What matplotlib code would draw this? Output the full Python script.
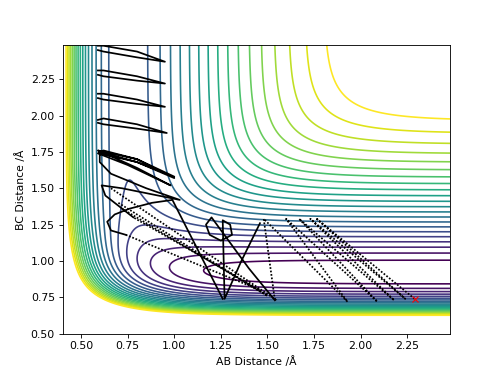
import numpy as np
import matplotlib
matplotlib.use("Agg")
import matplotlib.pyplot as plt

# LEPS parameters (eV, Angstrom) for the H-H and H-F pairs
D_HH, BETA_HH, R0_HH, SATO_HH = 4.746, 1.942, 0.742, 0.20
D_HF, BETA_HF, R0_HF, SATO_HF = 6.122, 2.2187, 0.917, 0.20

# contour levels: lowest line, highest line, number of lines
level_low = -5.926
level_high = -1.133
n_levels = 22

# trajectory
start_ab, start_bc = 2.29, 0.74

# fast parts (dotted in the picture)
fast_ab = [2.29, 1.76, 2.24, 1.73, 2.18, 1.67, 2.09, 1.60, 1.93, 1.48, 1.54, np.nan,
           0.74, 1.46, 0.78, np.nan,
           0.70, 1.50, 0.72, np.nan,
           0.66, 1.55]
fast_bc = [0.74, 1.295, 0.74, 1.29, 0.73, 1.29, 0.72, 1.29, 0.72, 1.29, 0.73, np.nan,
           1.18, 0.80, 1.30, np.nan,
           1.40, 0.76, 1.36, np.nan,
           1.50, 0.73]

# slow parts (dense dots in the picture)
slow_ab = [1.54, 1.40, 1.20, 1.17, 1.19, 1.25, 1.31, 1.30, 1.26, 1.27, 1.36, 1.46, np.nan,
           1.26, 0.99, 0.88, 0.76, 0.68, 0.64, 0.66, 0.74, np.nan,
           0.78, 0.70, 0.63, 0.61, 0.72, 1.03, 0.85, 0.66, 0.60, 0.60, 0.80, 1.00, 0.80,
           0.62, 0.59, 0.75, 0.98, 0.80, 0.61, 0.59, 0.80, 1.00, 0.80, 0.60, np.nan,
           0.59, 0.62, 0.80, 0.96, 0.80, 0.62, 0.59, np.nan,
           0.59, 0.62, 0.80, 0.95, 0.80, 0.62, 0.59, np.nan,
           0.59, 0.62, 0.80, 0.95, 0.80, 0.62, 0.59, np.nan,
           0.59, 0.62, 0.80, 0.95, 0.80, 0.62, 0.59]
slow_bc = [0.73, 0.95, 1.30, 1.25, 1.18, 1.14, 1.18, 1.25, 1.28, 0.74, 1.00, 1.26, np.nan,
           0.74, 1.42, 1.40, 1.36, 1.32, 1.27, 1.21, 1.18, np.nan,
           1.30, 1.38, 1.45, 1.52, 1.50, 1.42, 1.50, 1.60, 1.68, 1.75, 1.68, 1.57, 1.70,
           1.76, 1.74, 1.66, 1.52, 1.64, 1.75, 1.76, 1.70, 1.58, 1.68, 1.74, np.nan,
           1.97, 1.98, 1.94, 1.88, 1.91, 1.94, 1.95, np.nan,
           2.15, 2.15, 2.11, 2.06, 2.08, 2.11, 2.12, np.nan,
           2.31, 2.31, 2.27, 2.22, 2.24, 2.27, 2.28, np.nan,
           2.48, 2.48, 2.44, 2.37, 2.40, 2.44, 2.45]


def leps_terms(r, D, beta, r0, s):
    e1 = np.exp(-beta * (r - r0))
    e2 = e1 ** 2
    q = D / 4 * ((3 + s) * e2 - (2 + 6 * s) * e1)
    j = D / 4 * ((1 + 3 * s) * e2 - (6 + 2 * s) * e1)
    return q / (1 + s), j / (1 + s)


def leps(rab, rbc):
    rac = rab + rbc
    qab, jab = leps_terms(rab, D_HH, BETA_HH, R0_HH, SATO_HH)
    qbc, jbc = leps_terms(rbc, D_HF, BETA_HF, R0_HF, SATO_HF)
    qac, jac = leps_terms(rac, D_HF, BETA_HF, R0_HF, SATO_HF)
    root = np.sqrt(np.maximum(jab**2 + jbc**2 + jac**2 - jab*jbc - jbc*jac - jab*jac, 0))
    return qab + qbc + qac - root


x = np.linspace(0.4, 2.48, 400)
y = np.linspace(0.5, 2.485, 400)
X, Y = np.meshgrid(x, y)
V = leps(X, Y)

plt.figure(figsize=(6.4, 4.8), dpi=78.125)
plt.contour(X, Y, V, levels=np.linspace(level_low, level_high, n_levels), cmap="viridis")
plt.plot(fast_ab, fast_bc, color="k", linestyle=(0, (1, 1)), linewidth=1.6)
plt.plot(slow_ab, slow_bc, color="k", linewidth=1.6)
plt.plot(start_ab, start_bc, "rx", markersize=5)
plt.xlim(0.4, 2.48)
plt.ylim(0.5, 2.485)
plt.xlabel("AB Distance /Å")
plt.ylabel("BC Distance /Å")
plt.savefig("out.png")
